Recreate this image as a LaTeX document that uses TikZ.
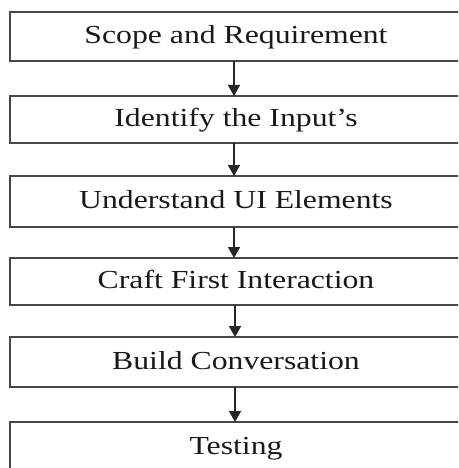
\documentclass[tikz,border=0pt]{standalone}
\usepackage{fontspec}
\setmainfont{Liberation Serif}
\usetikzlibrary{arrows.meta}
\begin{document}
\begin{tikzpicture}[x=1pt,y=-1pt,
  stepbox/.style={minimum width=452pt, inner sep=0pt, outer sep=0pt,
    font=\fontsize{26}{30}\selectfont, text height=20pt, text depth=5.8pt,
    anchor=north west, text=black!90},
  boxline/.style={draw=black!72, line width=1.9pt},
  conn/.style={draw=black!85, line width=1.7pt, -{Triangle[length=11pt,width=12pt]}}]
\useasboundingbox (0,0) rectangle (458,468);
\clip (0,0) rectangle (458,468);
\node[stepbox, minimum height=49pt] (s1) at (10,12) {\scalebox{1.22}[1]{Scope and Requirement}};
\node[stepbox, minimum height=47pt] (s2) at (10,96) {\scalebox{1.22}[1]{Identify the Input's}};
\node[stepbox, minimum height=51pt] (s3) at (10,176) {\scalebox{1.22}[1]{Understand UI Elements}};
\node[stepbox, minimum height=47pt] (s4) at (10,258) {\scalebox{1.22}[1]{Craft First Interaction}};
\node[stepbox, minimum height=50pt] (s5) at (10,337) {\scalebox{1.22}[1]{Build Conversation}};
\node[stepbox, minimum height=50pt] (s6) at (10,422) {\scalebox{1.22}[1]{Testing}};
\foreach \s in {s1,s2,s3,s4,s5,s6}
  \draw[boxline] (\s.north west) rectangle ([xshift=30pt]\s.south east);
\draw[conn] ([xshift=-2pt]s1.south) -- ([xshift=-2pt]s2.north);
\draw[conn] ([xshift=-2pt]s2.south) -- ([xshift=-2pt]s3.north);
\draw[conn] ([xshift=-2pt]s3.south) -- ([xshift=-2pt]s4.north);
\draw[conn] ([xshift=-1pt]s4.south) -- ([xshift=-1pt]s5.north);
\draw[conn] ([xshift=-1pt]s5.south) -- ([xshift=-1pt]s6.north);
\end{tikzpicture}
\end{document}
